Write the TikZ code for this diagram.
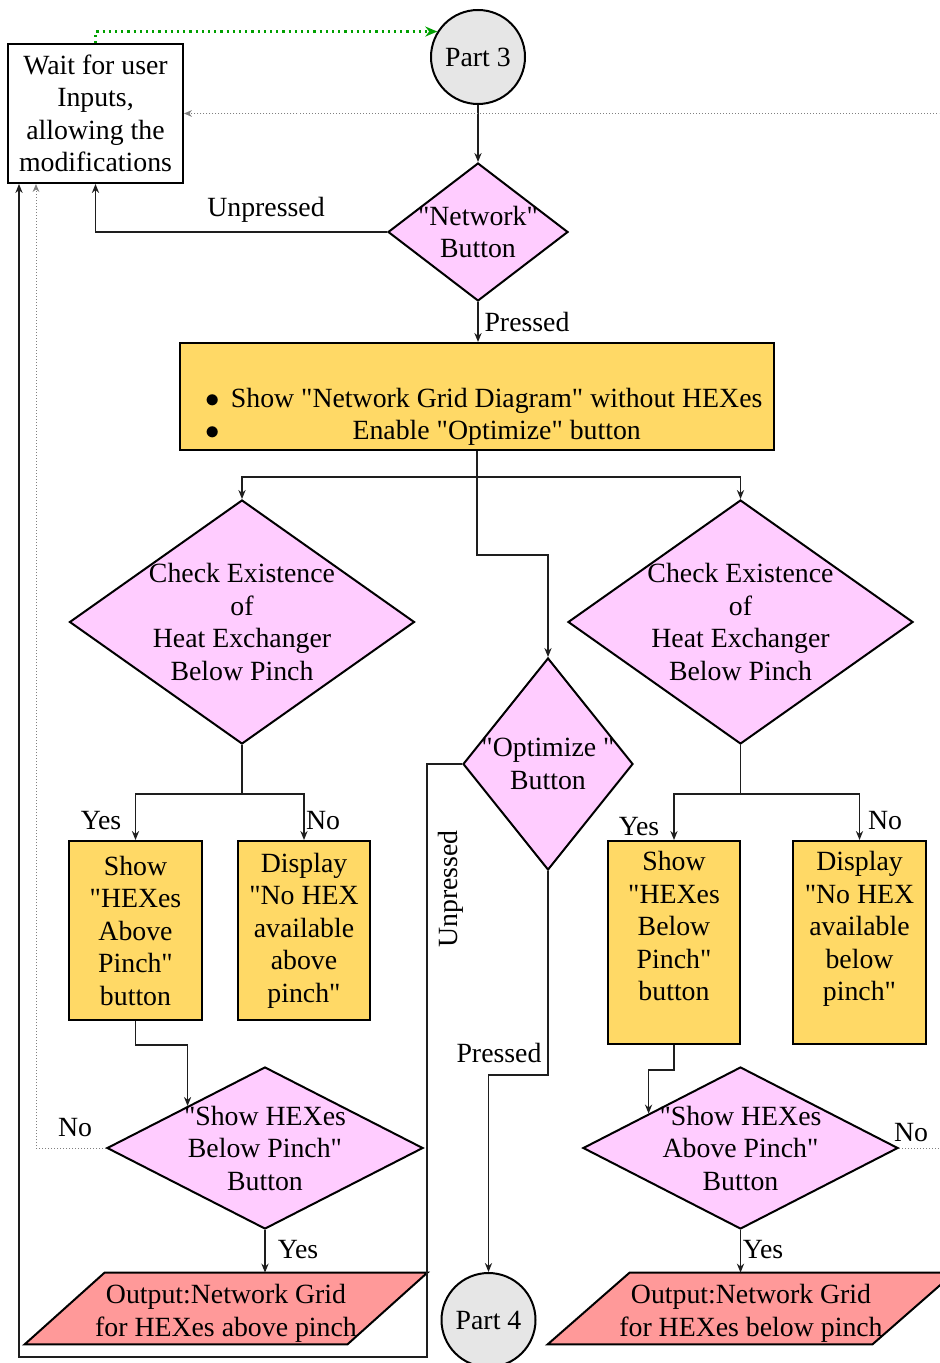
\documentclass[tikz,border=0pt]{standalone}
\usepackage{fontspec}
\setmainfont{Liberation Serif}[Ligatures=TeXOff]
\usetikzlibrary{shapes.geometric,arrows.meta,calc}
\pgfdeclarelayer{bg}
\pgfsetlayers{bg,main}
\definecolor{pinkfill}{RGB}{255,204,255}
\definecolor{goldfill}{RGB}{255,217,102}
\definecolor{salmonfill}{RGB}{255,153,153}
\definecolor{greyfill}{RGB}{230,230,230}
\definecolor{loopgreen}{RGB}{0,160,0}
\definecolor{linegrey}{RGB}{30,30,30}

\begin{document}
\begin{tikzpicture}[x=0.5pt,y=-0.5pt,
  every node/.append style={font=\fontsize{13.9pt}{16.25pt}\selectfont},
  dia/.style={diamond, draw, line width=1pt, fill=pinkfill, inner sep=0pt},
  txt/.style={align=center, inner sep=0pt},
  box/.style={rectangle, draw, line width=1pt, fill=goldfill, inner sep=0pt, align=center},
  term/.style={circle, draw, line width=1pt, fill=greyfill, inner sep=0pt, minimum size=47pt},
  outfill/.style={draw, line width=1pt, fill=salmonfill},
  conn/.style={draw=linegrey, line width=0.65pt, -{Stealth[length=4.5pt,width=3.6pt]}},
  back/.style={draw=gray, line width=0.5pt, densely dotted, -{Stealth[length=4pt,width=3.4pt]}},
  start/.style={draw=loopgreen, line width=1.1pt, dotted, -{Stealth[length=6pt,width=5pt]}},
  lbl/.style={inner sep=0pt}
]
\useasboundingbox (0,0) rectangle (939,1363);
\clip (0,0) rectangle (939,1363);

% --- nodes ---
\node[rectangle, draw, line width=1pt, fill=white, align=center, inner sep=0pt,
      minimum width=87.5pt, minimum height=69.5pt] (wait) at (95.5,113.5)
      {Wait for user\\Inputs,\\allowing the\\modifications};
\node[term] (p3) at (478,57) {Part 3};

\node[dia, minimum width=90pt, minimum height=69pt,
      label={[txt]center:{"Network"\\Button}}] (net) at (478,232) {};

\node[box, minimum width=297pt, minimum height=53.5pt] (top) at (477,396.5)
  {\begin{tabular}{@{\hspace{7pt}}c@{\hspace{5.5pt}}c@{}}
    & \\[4.5pt]
    $\bullet$ & Show "Network Grid Diagram" without HEXes\\
    $\bullet$ & Enable "Optimize" button
   \end{tabular}};

\node[dia, minimum width=172.5pt, minimum height=122pt,
      label={[txt]center:{Check Existence\\of\\Heat Exchanger\\Below Pinch}}] (chkL) at (242,622) {};
\node[dia, minimum width=172.5pt, minimum height=122pt,
      label={[txt]center:{Check Existence\\of\\Heat Exchanger\\Below Pinch}}] (chkR) at (740.5,622) {};
\node[dia, minimum width=85pt, minimum height=106pt,
      label={[txt]center:{"Optimize "\\Button}}] (opt) at (548,764) {};

\node[box, minimum width=66.5pt, minimum height=89.5pt] (showL) at (135.5,930.5)
  {Show\\"HEXes\\Above\\Pinch"\\button};
\node[box, minimum width=66pt, minimum height=89.5pt] (dispL) at (304,930.5)
  {Display\\"No HEX\\available\\above\\pinch"};
\node[box, minimum width=66pt, minimum height=101.5pt] (showR) at (674,942.5)
  {Show\\"HEXes\\Below\\Pinch"\\button\\\mbox{}};
\node[box, minimum width=66.5pt, minimum height=101.5pt] (dispR) at (859.5,942.5)
  {Display\\"No HEX\\available\\below\\pinch"\\\mbox{}};

\node[dia, minimum width=158pt, minimum height=81pt,
      label={[txt]center:{"Show HEXes\\Below Pinch"\\Button}}] (sdL) at (265,1148) {};
\node[dia, minimum width=157.5pt, minimum height=81pt,
      label={[txt]center:{"Show HEXes\\Above Pinch"\\Button}}] (sdR) at (740.5,1148) {};

\node[inner sep=0pt, minimum width=201pt, minimum height=35.5pt,
      label={[txt,yshift=-2.3pt]center:{Output:Network Grid\\for HEXes above pinch}}] (outL) at (226,1308.5) {};
\node[inner sep=0pt, minimum width=203pt, minimum height=35.5pt,
      label={[txt,yshift=-2.3pt]center:{Output:Network Grid\\for HEXes below pinch}}] (outR) at (751,1308.5) {};
\begin{pgfonlayer}{bg}
  \path[outfill] ($(outL.north west)+(80,0)$) -- (outL.north east)
     -- ($(outL.south east)+(-80,0)$) -- (outL.south west) -- cycle;
  \path[outfill] ($(outR.north west)+(82,0)$) -- (outR.north east)
     -- ($(outR.south east)+(-82,0)$) -- (outR.south west) -- cycle;
\end{pgfonlayer}

\node[term] (p4) at (488.5,1320) {Part 4};

% --- connectors ---
\draw[start] (wait.north) |- (p3.148);
\draw[conn] (p3.south) -- (net.north);
\draw[conn] (net.west) -| (wait.south);
\draw[conn] (net.south) -- (net.south |- top.north);

\draw[conn] (top.south) -- ++(0,26) -| (chkL.north);
\draw[conn] (top.south) -- ++(0,26) -| (chkR.north);
\draw[conn] (top.south) -- ++(0,104) -| (opt.north);

\draw[conn] (chkL.south) -- ++(0,49) -| (showL.north);
\draw[conn] (chkL.south) -- ++(0,49) -| (dispL.north);
\draw[conn] (chkR.south) -- ++(0,49) -| (showR.north);
\draw[conn] (chkR.south) -- ++(0,49) -| (dispR.north);

\draw[conn] (showL.south) -- ++(0,24) -| ($(sdL.west)!0.513!(sdL.north)$);
\draw[conn] (showR.south) -- ++(0,25) -| ($(sdR.west)!0.42!(sdR.north)$);

\draw[conn] (sdL.south) -- (sdL.south |- outL.north);
\draw[conn] (sdR.south) -- (sdR.south |- outR.north);

\draw[back] (sdL.west) -| ($(wait.south west)+(29,0)$);
\draw[back] (sdR.east) -- ++(70,0) |- (wait.east);

\draw[conn] (opt.west) -- ++(-35,0) -- ++(0,593) -| ($(wait.south west)+(12,0)$);
\draw[conn] (opt.south) -- ++(0,204) -| (p4.north);

% --- connector labels ---
\node[lbl] at (266,210) {Unpressed};
\node[lbl] at (527,322) {Pressed};
\node[lbl] at (101,821) {Yes};
\node[lbl] at (323,821) {No};
\node[lbl] at (639,827) {Yes};
\node[lbl] at (885,821) {No};
\node[lbl, rotate=90] at (451,889) {Unpressed};
\node[lbl] at (499,1053) {Pressed};
\node[lbl] at (75,1128) {No};
\node[lbl] at (298,1250) {Yes};
\node[lbl] at (911,1133) {No};
\node[lbl] at (763,1250) {Yes};
\end{tikzpicture}
\end{document}
